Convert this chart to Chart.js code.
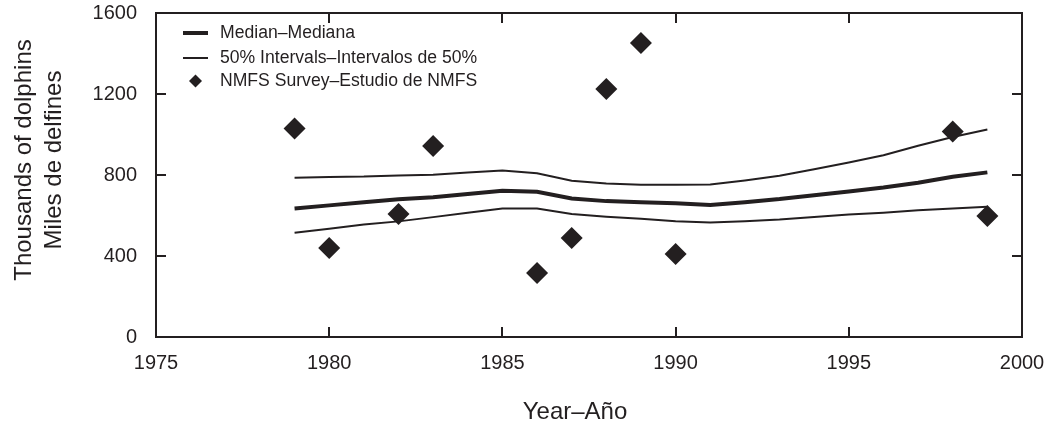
<!DOCTYPE html>
<html>
<head>
<meta charset="utf-8">
<script src="https://cdn.jsdelivr.net/npm/chart.js@4"></script>
<style>
  html, body { margin: 0; padding: 0; background: #fff; }
  #wrap { width: 1050px; height: 426px; }
</style>
</head>
<body>
<div id="wrap"><canvas id="grafico" width="1050" height="426"></canvas></div>
<script>
//--------------------------------------------------
// DADOS
//--------------------------------------------------

const anos         = [1979, 1980, 1981, 1982, 1983, 1984, 1985, 1986, 1987, 1988, 1989,
                      1990, 1991, 1992, 1993, 1994, 1995, 1996, 1997, 1998, 1999];
const mediana      = [635, 650, 665, 680, 690, 706, 722, 717, 684, 671, 665,
                      660, 652, 666, 681, 700, 718, 738, 762, 791, 813];
const intervaloSup = [787, 790, 792, 798, 801, 812, 822, 809, 772, 758, 752,
                      752, 753, 773, 796, 828, 862, 898, 944, 988, 1025];
const intervaloInf = [515, 535, 555, 571, 592, 614, 635, 635, 607, 594, 584,
                      572, 566, 572, 580, 592, 605, 614, 626, 634, 643];

const anosEstudo = [1979, 1980, 1982, 1983, 1986, 1987, 1988, 1989, 1990, 1998, 1999];
const estudoNMFS = [1030, 440, 607, 943, 316, 489, 1225, 1452, 410, 1015, 598];

const ticksX = [1975, 1980, 1985, 1990, 1995, 2000];
const ticksY = [0, 400, 800, 1200, 1600];

const legenda = ['Median–Mediana', '50% Intervals–Intervalos de 50%', 'NMFS Survey–Estudio de NMFS'];
const tituloX = 'Year–Año';
const tituloY = ['Thousands of dolphins', 'Miles de delfines'];

//--------------------------------------------------
// ESTILO
//--------------------------------------------------

const COR   = '#231f20';
const FONTE = '"Liberation Sans", Arial, sans-serif';

Chart.defaults.font.family = FONTE;
Chart.defaults.color = COR;

const pares = (xs, ys) => xs.map((x, i) => ({ x: x, y: ys[i] }));

//-----------------------------------
// MOLDURA + TICKS PARA DENTRO
//-----------------------------------

const moldura = {
  id: 'moldura',
  afterDraw(chart) {
    const { ctx, chartArea: { left, right, top, bottom }, scales: { x, y } } = chart;
    ctx.save();
    ctx.strokeStyle = COR;
    ctx.lineWidth   = 2;
    ctx.strokeRect(left, top, right - left, bottom - top);

    ctx.beginPath();
    ticksX.slice(1, -1).forEach(v => {
      const px = Math.round(x.getPixelForValue(v));
      ctx.moveTo(px, bottom); ctx.lineTo(px, bottom - 10);
      ctx.moveTo(px, top);    ctx.lineTo(px, top + 10);
    });
    ticksY.slice(1, -1).forEach(v => {
      const py = Math.round(y.getPixelForValue(v));
      ctx.moveTo(left, py);  ctx.lineTo(left + 10, py);
      ctx.moveTo(right, py); ctx.lineTo(right - 10, py);
    });
    ctx.stroke();
    ctx.restore();
  }
};

//-----------------------------------
// LEGENDA DENTRO DO GRÁFICO
//-----------------------------------

const legendaInterna = {
  id: 'legendaInterna',
  afterDraw(chart) {
    const { ctx, chartArea: { left, top } } = chart;
    const x0 = left + 27, x1 = left + 52, xt = left + 64;
    const linhas = [top + 20, top + 45, top + 68];

    ctx.save();
    ctx.strokeStyle = COR;
    ctx.fillStyle   = COR;

    ctx.lineWidth = 4;
    ctx.beginPath(); ctx.moveTo(x0, linhas[0]); ctx.lineTo(x1, linhas[0]); ctx.stroke();

    ctx.lineWidth = 2;
    ctx.beginPath(); ctx.moveTo(x0, linhas[1]); ctx.lineTo(x1, linhas[1]); ctx.stroke();

    const cx = (x0 + x1) / 2, r = 6.5;
    ctx.beginPath();
    ctx.moveTo(cx - r, linhas[2]); ctx.lineTo(cx, linhas[2] - r);
    ctx.lineTo(cx + r, linhas[2]); ctx.lineTo(cx, linhas[2] + r);
    ctx.closePath(); ctx.fill();

    ctx.font         = '17.6px ' + FONTE;
    ctx.textAlign    = 'left';
    ctx.textBaseline = 'middle';
    legenda.forEach((t, i) => ctx.fillText(t, xt, linhas[i]));
    ctx.restore();
  }
};

//-----------------------------------
// TÍTULOS DOS EIXOS
//-----------------------------------

const titulos = {
  id: 'titulos',
  afterDraw(chart) {
    const { ctx } = chart;
    ctx.save();
    ctx.fillStyle    = COR;
    ctx.font         = '24px ' + FONTE;
    ctx.textAlign    = 'center';
    ctx.textBaseline = 'middle';

    ctx.fillText(tituloX, 575, 412);

    ctx.translate(0, 160);
    ctx.rotate(-Math.PI / 2);
    ctx.fillText(tituloY[0], 0, 24);
    ctx.fillText(tituloY[1], 0, 54);
    ctx.restore();
  }
};

//--------------------------------------------------
// GRÁFICO
//--------------------------------------------------

const linhaBase = {
  type: 'line',
  borderColor: COR,
  pointRadius: 0,
  fill: false,
  tension: 0
};

new Chart(document.getElementById('grafico'), {
  type: 'line',
  data: {
    datasets: [
      {
        label: legenda[2],
        data: pares(anosEstudo, estudoNMFS),
        showLine: false,
        pointStyle: 'rectRot',
        pointRadius: 11,
        backgroundColor: COR,
        borderColor: COR,
        borderWidth: 0
      },
      { ...linhaBase, label: legenda[0], data: pares(anos, mediana),      borderWidth: 4 },
      { ...linhaBase, label: legenda[1], data: pares(anos, intervaloSup), borderWidth: 2 },
      { ...linhaBase, label: legenda[1], data: pares(anos, intervaloInf), borderWidth: 2 }
    ]
  },
  options: {
    responsive: false,
    animation: false,
    layout: { padding: { top: 13, right: 28, left: 0, bottom: 0 } },
    plugins: {
      legend:  { display: false },
      tooltip: { enabled: false }
    },
    scales: {
      x: {
        type: 'linear',
        min: 1975,
        max: 2000,
        grid:   { display: false, drawTicks: false },
        border: { display: false },
        afterBuildTicks: s => { s.ticks = ticksX.map(v => ({ value: v })); },
        afterFit: s => { s.height = 89; s.paddingLeft = 0; s.paddingRight = 0; },
        ticks: { font: { size: 20 }, color: COR, padding: 14, maxRotation: 0, autoSkip: false,
                 callback: v => String(v) }
      },
      y: {
        type: 'linear',
        min: 0,
        max: 1600,
        grid:   { display: false, drawTicks: false },
        border: { display: false },
        afterBuildTicks: s => { s.ticks = ticksY.map(v => ({ value: v })); },
        afterFit: s => { s.width = 156; s.paddingTop = 0; s.paddingBottom = 0; },
        ticks: { font: { size: 20 }, color: COR, padding: 19, callback: v => String(v) }
      }
    }
  },
  plugins: [moldura, legendaInterna, titulos]
});
</script>
</body>
</html>
